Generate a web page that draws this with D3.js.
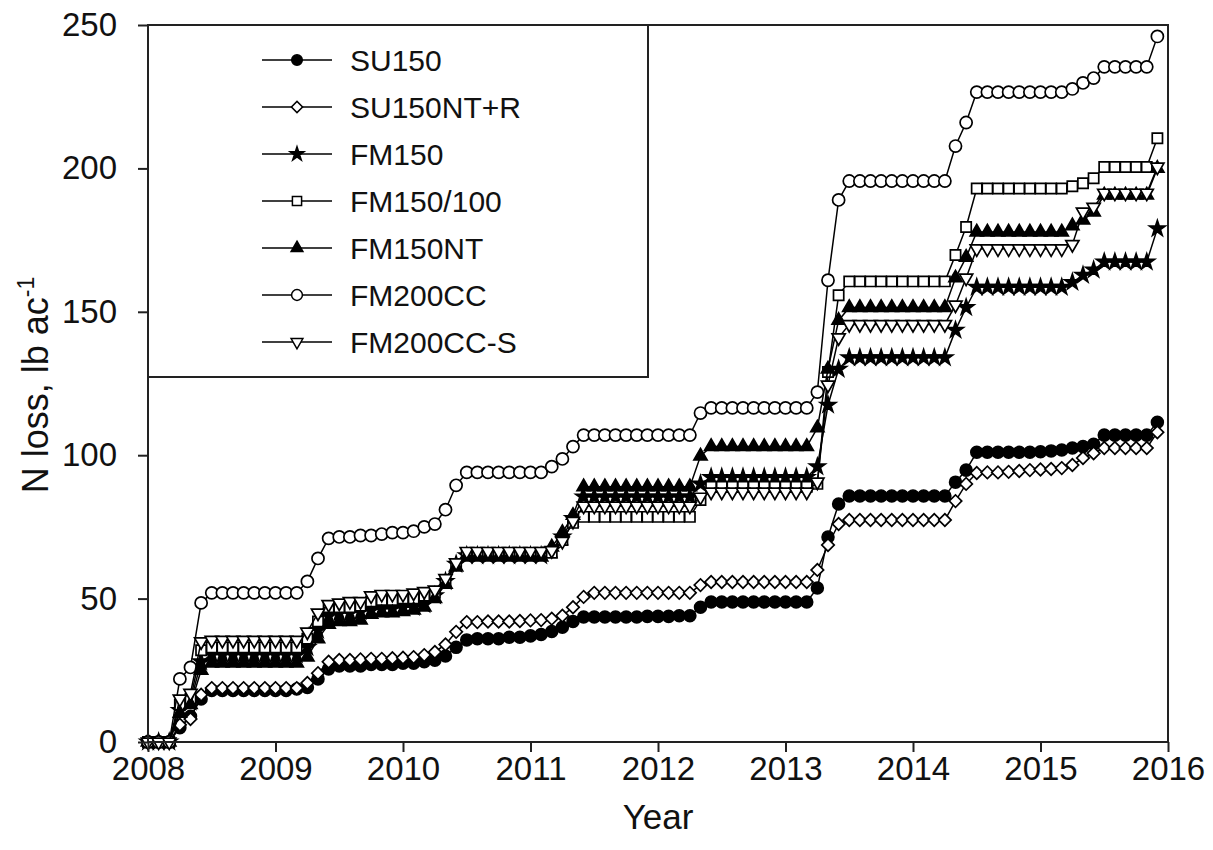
<!DOCTYPE html>
<html>
<head>
<meta charset="utf-8">
<script src="https://cdn.jsdelivr.net/npm/d3@7"></script>
<style>
  body { margin: 0; background: #fff; }
  svg text { font-family: "Liberation Sans", Arial, sans-serif; fill: #111; }
</style>
</head>
<body>
<div id="chart"></div>
<script>
// monthly cumulative N loss, Jan 2008 .. Dec 2015 (96 months)
const yearTicks = [2008, 2009, 2010, 2011, 2012, 2013, 2014, 2015, 2016];
const yTicks = [0, 50, 100, 150, 200, 250];
const seriesNames = ["SU150", "SU150NT+R", "FM150", "FM150/100", "FM150NT", "FM200CC", "FM200CC-S"];

const su150 = [0,0,0, 5,9,15, 18,18,18,18,18,18,18,18,18.5, 19,22,25.5,
  26.5,26.5,26.5,27,27,27,27.5,27.5,28, 28.5,30,33, 35.6,36,36,36,36.5,36.5,37,37.5,
  38.5,40,42, 43.6,43.6,43.6,43.6,43.6,43.6,43.8,43.8,43.8,44,44, 47,
  48.8,48.8,48.8,48.8,48.8,48.8,48.8,48.8,48.8,48.8, 53.7,71.5,83,
  85.8,85.8,85.8,85.8,85.8,85.8,85.8,85.8,85.8,85.8, 90.6,94.8,
  101,101,101,101,101,101,101.2,101.5,101.8, 102.5,103,103.8, 107,107,107,107,107, 111.5];

const su150ntr = [0,0,0, 6,8,16.5, 18.8,18.8,18.8,18.8,18.8,18.8,18.8,18.8,18.8, 20.6,24,28,
  28.6,28.6,28.8,29,29,29.2,29.4,29.6,30.3, 31.4,34,38.4, 41.8,41.8,42,42,42,42.2,42.4,42.5,
  43,44,47, 50.6,52,52,52,52,52,52,52,52,52,52, 54.7,
  55.8,55.8,55.8,55.8,55.8,55.8,55.8,55.8,55.8,55.8, 60,68.7,76,
  77.4,77.4,77.4,77.4,77.4,77.4,77.4,77.4,77.4,77.4, 84,90,
  93.8,94,94,94.2,94.5,94.8,95,95.2,95.5, 96.6,99,100.7, 102.5,102.5,102.5,102.5,102.5, 108];

const fm150 = [0,0,0, 11,14,28, 30.5,30.5,30.5,30.5,30.5,30.5,30.5,30.5,30.5, 33,39,44,
  45,45,45.5,46,46.5,46.5,47,47,48, 51,56,62, 65,65,65,65,65,65,65,65,
  67,71.5,78, 85.5,85.5,85.5,85.5,85.5,85.5,85.5,85.5,85.5,85.5,85.5, 90,
  92.3,92.3,92.3,92.3,92.3,92.3,92.3,92.3,92.3,92.3, 96,117.5,130,
  134,134,134,134,134,134,134,134,134,134, 143.6,151.5,
  158.6,158.6,158.6,158.6,158.6,158.6,158.6,158.6,158.6, 160.3,162.8,164.6, 167.4,167.4,167.4,167.4,167.4, 179];

const fm150100 = [0,0,0, 13,15,32, 33,33,33,33,33,33,33,33,33, 36,42,47,
  47,47,47.5,49,49.5,49.5,50,50,51, 52,56,62, 65.5,65.5,65.5,65.5,65.5,65.5,65.5,65.5,
  66,70.4,76.4, 78.5,78.5,78.5,78.5,78.5,78.5,78.5,78.5,78.5,78.5,78.5, 84.4,
  89,89,89,89,89,89,89,89,89,89, 90,129,155.8,
  160.6,160.6,160.6,160.6,160.6,160.6,160.6,160.6,160.6,160.6, 169.8,179.6,
  193,193,193,193,193,193,193,193,193, 193.8,194.8,196.6, 200.5,200.5,200.5,200.5,200.5, 210.5];

const fm150nt = [0,0,0, 10,13,25, 27.5,27.5,27.5,27.5,27.5,27.5,27.5,27.5,27.5, 29.6,36,41,
  42,42,42.5,44.5,45,45,45.5,46,47, 50,55,61, 64.5,64.5,64.5,64.5,64.5,64.5,64.5,64.5,
  68,73,79, 89,89,89,89,89,89,89,89,89,89,89, 99.7,
  103,103,103,103,103,103,103,103,103,103, 109.5,130,147,
  151.5,151.5,151.5,151.5,151.5,151.5,151.5,151.5,151.5,151.5, 161.8,169,
  177.8,177.8,177.8,177.8,177.8,177.8,177.8,177.8,177.8, 180,182,184.8, 190.7,190.7,190.7,190.7,190.7, 200];

const fm200cc = [0,0,0, 22,26,48.5, 52,52,52,52,52,52,52,52,52, 56,64,71,
  71.5,71.5,72,72,72.5,73,73,73.5,75, 76,81,89.5, 94,94,94,94,94,94,94,94,
  96,98.7,103, 107,107,107,107,107,107,107,107,107,107,107, 114.7,
  116.5,116.5,116.5,116.5,116.5,116.5,116.5,116.5,116.5,116.5, 122,161,189,
  195.6,195.6,195.6,195.6,195.6,195.6,195.6,195.6,195.6,195.6, 207.8,216,
  226.6,226.6,226.6,226.6,226.6,226.6,226.6,226.6,226.6, 227.7,229.8,231.5, 235.4,235.4,235.4,235.4,235.4, 246];

const fm200ccs = [0,0,0, 15,17,35, 35.5,35.5,35.5,35.5,35.5,35.5,35.5,35.5,35.5, 38.4,45,48,
  48.5,49,49,51,51.5,51.5,51.5,52,52.5, 53,57,62.5, 66.5,66.5,66.5,66.5,66.5,66.5,66.5,66.5,
  66.8,70,77, 82.3,82.3,82.3,82.3,82.3,82.3,82.3,82.3,82.3,82.3,82.3, 85.4,
  87.2,87.2,87.2,87.2,87.2,87.2,87.2,87.2,87.2,87.2, 90.7,124.5,141,
  145.6,145.6,145.6,145.6,145.6,145.6,145.6,145.6,145.6,145.6, 152.4,161.8,
  172,172,172,172,172,172,172,172,172, 173.5,184.8,186.5, 191.4,191.4,191.4,191.4,191.4, 200.5];

const seriesValues = [su150, su150ntr, fm150, fm150100, fm150nt, fm200cc, fm200ccs];

// month positions as fractional years
const monthPos = d3.range(su150.length).map(i => 2008 + i / 12);

const width = 1213, height = 850;
const margin = {top: 25, right: 45, bottom: 108, left: 148};

const svg = d3.select("#chart").append("svg")
  .attr("width", width)
  .attr("height", height);

const x = d3.scaleLinear().domain([2008, 2016]).range([margin.left, width - margin.right]);
const y = d3.scaleLinear().domain([0, 250]).range([height - margin.bottom, margin.top]);

// marker styles per series
const markers = [
  {shape: d3.symbolCircle, size: 110, fill: "#000", rot: 0},
  {shape: d3.symbolSquare, size: 78, fill: "#fff", rot: 45},
  {shape: d3.symbolStar, size: 75, fill: "#000", rot: 0},
  {shape: d3.symbolSquare, size: 105, fill: "#fff", rot: 0},
  {shape: d3.symbolTriangle, size: 75, fill: "#000", rot: 0},
  {shape: d3.symbolCircle, size: 115, fill: "#fff", rot: 0},
  {shape: d3.symbolTriangle, size: 75, fill: "#fff", rot: 180}
];

const line = d3.line()
  .x((d, i) => x(monthPos[i]))
  .y(d => y(d));

seriesValues.forEach((vals, k) => {
  const m = markers[k];
  const g = svg.append("g");
  g.append("path")
    .datum(vals)
    .attr("d", line)
    .attr("fill", "none")
    .attr("stroke", "#000")
    .attr("stroke-width", 1.5);
  g.selectAll("path.pt")
    .data(vals)
    .enter()
    .append("path")
      .attr("class", "pt")
      .attr("d", d3.symbol().type(m.shape).size(m.size))
      .attr("transform", (d, i) => `translate(${x(monthPos[i])},${y(d)}) rotate(${m.rot})`)
      .attr("fill", m.fill)
      .attr("stroke", "#000")
      .attr("stroke-width", 1.7);
});

// frame
svg.append("rect")
  .attr("x", margin.left)
  .attr("y", margin.top)
  .attr("width", width - margin.left - margin.right)
  .attr("height", height - margin.top - margin.bottom)
  .attr("fill", "none")
  .attr("stroke", "#222")
  .attr("stroke-width", 2);

// axes
const yAxis = svg.append("g")
  .attr("transform", `translate(${margin.left},0)`)
  .call(d3.axisLeft(y).tickValues(yTicks).tickSize(10).tickSizeOuter(0).tickPadding(21));
yAxis.select(".domain").remove();
yAxis.selectAll("line").attr("stroke", "#222").attr("stroke-width", 2);
yAxis.selectAll("text").style("font-size", "33px");

const xAxis = svg.append("g")
  .attr("transform", `translate(0,${height - margin.bottom})`)
  .call(d3.axisBottom(x).tickValues(yearTicks).tickFormat(d3.format("d")).tickSize(10).tickSizeOuter(0).tickPadding(5));
xAxis.select(".domain").remove();
xAxis.selectAll("line").attr("stroke", "#222").attr("stroke-width", 2);
xAxis.selectAll("text").style("font-size", "33px");

// axis titles
svg.append("text")
  .attr("x", (margin.left + width - margin.right) / 2)
  .attr("y", 829)
  .attr("text-anchor", "middle")
  .style("font-size", "35px")
  .text("Year");

const yTitle = svg.append("text")
  .attr("transform", "translate(48,385) rotate(-90)")
  .attr("text-anchor", "middle")
  .style("font-size", "36px");
yTitle.append("tspan").text("N loss, lb ac");
yTitle.append("tspan").attr("dy", -14).style("font-size", "23px").text("-1");

// legend
const legend = svg.append("g");
legend.append("rect")
  .attr("x", margin.left)
  .attr("y", margin.top)
  .attr("width", 500)
  .attr("height", 352)
  .attr("fill", "#fff")
  .attr("stroke", "#222")
  .attr("stroke-width", 2);

seriesNames.forEach((name, k) => {
  const m = markers[k];
  const cy = 60 + k * 47;
  legend.append("line")
    .attr("x1", 262).attr("x2", 332)
    .attr("y1", cy).attr("y2", cy)
    .attr("stroke", "#000")
    .attr("stroke-width", 1.5);
  legend.append("path")
    .attr("d", d3.symbol().type(m.shape).size(m.size * 0.8))
    .attr("transform", `translate(297,${cy}) rotate(${m.rot})`)
    .attr("fill", m.fill)
    .attr("stroke", "#000")
    .attr("stroke-width", 1.5);
  legend.append("text")
    .attr("x", 350)
    .attr("y", cy)
    .attr("dy", "0.36em")
    .style("font-size", "30px")
    .text(name);
});
</script>
</body>
</html>
